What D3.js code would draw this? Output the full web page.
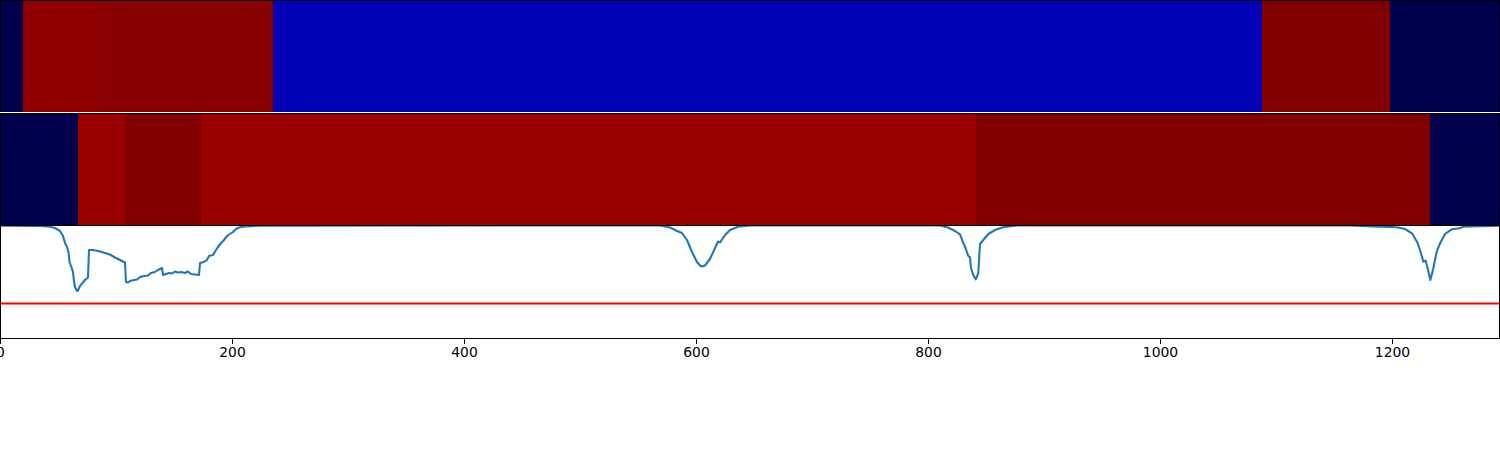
<!DOCTYPE html>
<html>
<head>
<meta charset="utf-8">
<script src="https://cdn.jsdelivr.net/npm/d3@7"></script>
<style>
html,body{margin:0;padding:0;background:#fff}
svg{display:block}
text{font-family:"DejaVu Sans",sans-serif}
</style>
</head>
<body>
<svg id="chart" width="1500" height="450"></svg>
<script>
const xTicks = [0, 200, 400, 600, 800, 1000, 1200];
const xMax = 1292.5;
const threshold = 34.5;

const topEdges = [0, 19.5, 85.8, 235, 1087.5, 1198, 1292.5];
const topValues = [0, 0.972, 0.983, 0.145, 1, 0];
const midEdges = [0, 66.8, 108.2, 172.8, 840.9, 1232.3, 1292.5];
const midValues = [0, 0.95, 1, 0.95, 1, 0];

const lineX = [0,34,42.7,47,51.3,53.9,55.6,57.3,58.6,59.5,60.8,62.5,63.4,64.2,66,66.8,68.5,71.1,72.8,75.4,76.3,78.9,82.3,85.8,90.1,94.4,98.7,103,107.3,108.2,109.9,111.6,115.1,117.7,120.3,123.7,127.2,129.7,133.2,135.8,139.2,140.1,142.7,145.3,147.8,150.4,153,155.6,159,161.6,164.2,167.7,171.1,172,175.4,178,179.7,183.2,185.8,187.5,190.1,192.7,195.3,197.8,200.4,203,205.6,210.8,223.7,499.6,
  568.5,577.2,583.2,587.5,591.8,596.1,600.4,603,604.7,607.3,611.6,616,618.5,620.3,624.6,628.9,635.8,646.1,
  809.9,816.8,822.9,827.2,829.5,831.5,834.3,835.8,836.6,838.6,840.7,842.9,844.4,847.2,851.6,857.3,864.2,876.3,
  1163.4,1183.2,1203.9,1210.8,1216.8,1221.1,1223.7,1226.6,1228.6,1230.3,1232.6,1235.2,1238.1,1241,1245.3,1251,1258.2,1260.7,1292.5];
const lineY = [112.3,112,111.3,110,107,102,95,91,86,76,72,66,56,51,47,47.5,52,55.5,58,60.5,88,88,87.5,86.5,85,83.5,80.5,78,75.5,56,55.5,57,58,58.5,61,62,62.5,65,66,68,70,63,64,65,64.5,66.5,65.5,66,65,66.5,64,63.5,63,75,76,78,82,83,88,91,95,98,102,104,106,109,110.5,111.5,112.3,112.6,
  112.5,110.5,107,105,98,86,76,72.5,71.5,72.5,79,90,96.5,95.5,103,108,111.3,112.5,
  112.6,110.5,107,103.7,96.3,91.3,82,80.7,70,63,58.7,64.7,94,98,104,108,110.7,112.5,
  112.6,111.6,110.7,109,104.7,96.3,88,76.3,77.3,69.7,58,69.7,86.3,94.7,104,108.7,109.7,111.3,112.2];

const svg = d3.select("#chart");
const x = d3.scaleLinear().domain([0, xMax]).range([0.5, 0.5 + xMax * 1.16]);
const y = d3.scaleLinear().domain([0, 112]).range([338, 226]);

// seismic colormap
const seismic = d3.scaleLinear()
  .domain([0, 0.25, 0.5, 0.75, 1])
  .range(["rgb(0,0,77)", "rgb(0,0,255)", "rgb(255,255,255)", "rgb(255,0,0)", "rgb(128,0,0)"])
  .interpolate(d3.interpolateRgb);

function strip(edges, values, y0, y1) {
  svg.append("g").selectAll("rect").data(values).join("rect")
    .attr("x", (d, i) => x(edges[i]))
    .attr("width", (d, i) => x(edges[i + 1]) - x(edges[i]))
    .attr("y", y0)
    .attr("height", y1 - y0)
    .attr("fill", d => seismic(d))
    .attr("shape-rendering", "crispEdges");
}
function spine(x1, y1, x2, y2) {
  svg.append("line").attr("x1", x1).attr("y1", y1).attr("x2", x2).attr("y2", y2)
    .attr("stroke", "#000").attr("stroke-width", 1).attr("shape-rendering", "crispEdges");
}

strip(topEdges, topValues, 0, 112);
strip(midEdges, midValues, 113, 225);

svg.append("defs").append("clipPath").attr("id", "plot").append("rect")
  .attr("x", 0.5).attr("y", 226).attr("width", 1500).attr("height", 112);

const plot = svg.append("g").attr("clip-path", "url(#plot)");
plot.append("path")
  .attr("d", d3.line().x(d => x(d[0])).y(d => y(d[1]))(lineX.map((v, i) => [v, lineY[i]])))
  .attr("fill", "none").attr("stroke", "#1f77b4").attr("stroke-width", 2.08).attr("stroke-linejoin", "round");
plot.append("line")
  .attr("x1", x(0)).attr("x2", x(xMax))
  .attr("y1", y(threshold)).attr("y2", y(threshold))
  .attr("stroke", "#ff0000").attr("stroke-width", 2.08);

const right = x(xMax);
spine(0.5, 0.5, right, 0.5);
spine(0.5, 0, 0.5, 112);
spine(right, 0, right, 112);
spine(0.5, 113.5, right, 113.5);
spine(0.5, 225.5, right, 225.5);
spine(0.5, 113, 0.5, 226);
spine(right, 113, right, 226);
spine(0.5, 226, 0.5, 338);
spine(right, 226, right, 338);
spine(0, 338.5, 1500, 338.5);

const axis = d3.axisBottom(x).tickValues(xTicks).tickFormat(d3.format("d")).tickSize(5).tickPadding(4).offset(0);
const ag = svg.append("g").attr("transform", "translate(0,338.5)").call(axis);
ag.select(".domain").remove();
ag.selectAll("line").attr("stroke", "#000").attr("shape-rendering", "crispEdges");
ag.selectAll("text").attr("fill", "#000").attr("font-size", 13.9).attr("font-family", "DejaVu Sans");
</script>
</body>
</html>
